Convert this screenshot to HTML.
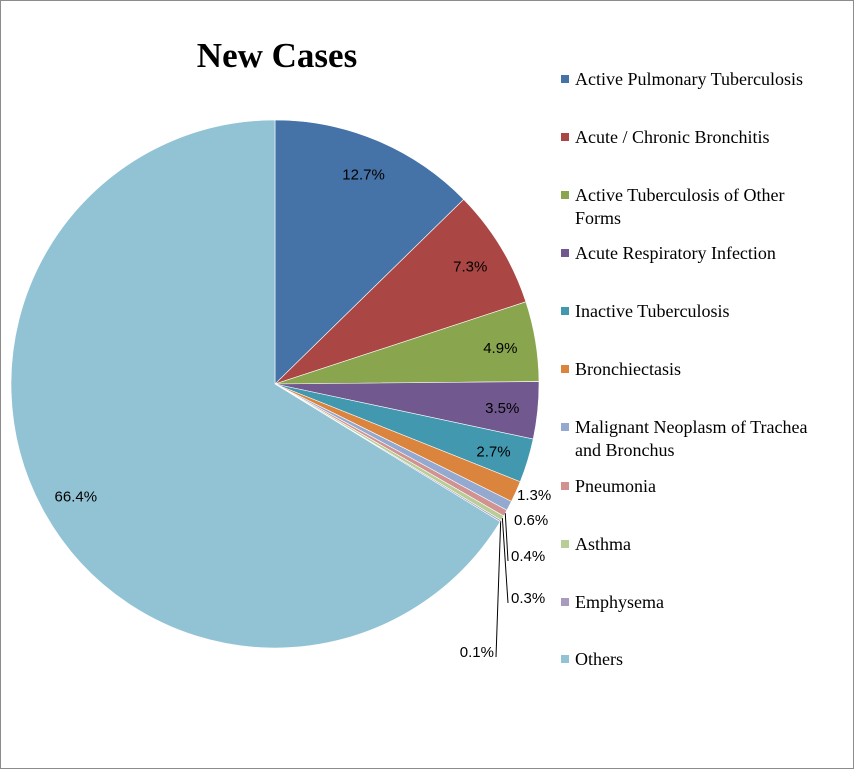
<!DOCTYPE html>
<html><head><meta charset="utf-8"><style>
body{margin:0;background:#fff}
#wrap{position:relative;width:855px;height:770px;overflow:hidden}
svg{position:absolute;left:0;top:0}
</style></head><body>
<div id="wrap">
<svg id="chart" width="855" height="770">
<rect x="0.5" y="0.5" width="853" height="768" fill="#fff" stroke="#8c8c8c"/>
<text x="277" y="67" text-anchor="middle" font-family="Liberation Serif, serif" font-weight="bold" font-size="35" fill="#000">New Cases</text>
</svg>
</div>
<script>
const categories=["Active Pulmonary Tuberculosis","Acute / Chronic Bronchitis","Active Tuberculosis of Other Forms","Acute Respiratory Infection","Inactive Tuberculosis","Bronchiectasis","Malignant Neoplasm of Trachea and Bronchus","Pneumonia","Asthma","Emphysema","Others"];
const values=[12.7,7.3,4.9,3.5,2.7,1.3,0.6,0.4,0.3,0.1,66.4];
const valueLabels=["12.7%","7.3%","4.9%","3.5%","2.7%","1.3%","0.6%","0.4%","0.3%","0.1%","66.4%"];
const colors=["#4572A7","#AA4643","#89A54E","#71588F","#4198AF","#DB843D","#93A9CF","#D19392","#B9CD96","#A99BBD","#92C3D5"];
const NS="http://www.w3.org/2000/svg";
const svg=document.getElementById('chart');
const cx=275,cy=384,r=264;
const total=values.reduce((a,b)=>a+b,0);
function pt(a,rr){return [cx+rr*Math.sin(a),cy-rr*Math.cos(a)];}
function mk(tag,attrs){const e=document.createElementNS(NS,tag);for(const k in attrs)e.setAttribute(k,attrs[k]);svg.appendChild(e);return e;}
// outside label placements for small slices (layout only)
const outside={5:[517,500,'start'],6:[514,525,'start'],7:[511,561,'start'],8:[511,603,'start'],9:[494,657,'end']};
let a=0;
values.forEach((v,i)=>{
  const sw=v/total*2*Math.PI;
  const [x1,y1]=pt(a,r),[x2,y2]=pt(a+sw,r);
  const p=mk('path',{d:`M${cx},${cy}L${x1},${y1}A${r},${r} 0 ${sw>Math.PI?1:0} 1 ${x2},${y2}Z`,fill:colors[i],stroke:'#fff','stroke-width':0.6});
  
  
  const mid=a+sw/2;
  let lx,ly,anchor='middle';
  if(outside[i]){
    [lx,ly,anchor]=outside[i];
    const [ex,ey]=pt(mid,r);
    if(i>=7){
      const ln=mk('polyline',{points:`${ex},${ey} ${anchor==='end'?lx+2:lx-3},${ly} `,fill:'none',stroke:'#000','stroke-width':1});
      
      
    }
  } else {
    [lx,ly]=pt(mid,r*0.865);ly+=6;
  }
  const t=mk('text',{x:lx,y:ly,'text-anchor':anchor,'font-family':'Liberation Sans, sans-serif','font-size':15,fill:'#000'});
  t.textContent=valueLabels[i];
  
  
  a+=sw;
});
// legend
const legendY=[80,138,196,254,312,370,428,487,545,603,660];
categories.forEach((c,i)=>{
  const y=legendY[i];
  const sq=mk('rect',{x:561,y:y-5,width:8,height:8,fill:colors[i]});
  
  
  const t=mk('text',{x:575,y:y+5,'font-family':'Liberation Serif, serif','font-size':18,fill:'#000'});
  let lines=[c];
  if(i===2)lines=["Active Tuberculosis of Other","Forms"];
  if(i===6)lines=["Malignant Neoplasm of Trachea","and Bronchus"];
  lines.forEach((s,j)=>{const ts=document.createElementNS(NS,'tspan');ts.setAttribute('x',575);ts.setAttribute('dy',j?23:0);ts.textContent=s;t.appendChild(ts);});
  
  
});
</script>
</body></html>
